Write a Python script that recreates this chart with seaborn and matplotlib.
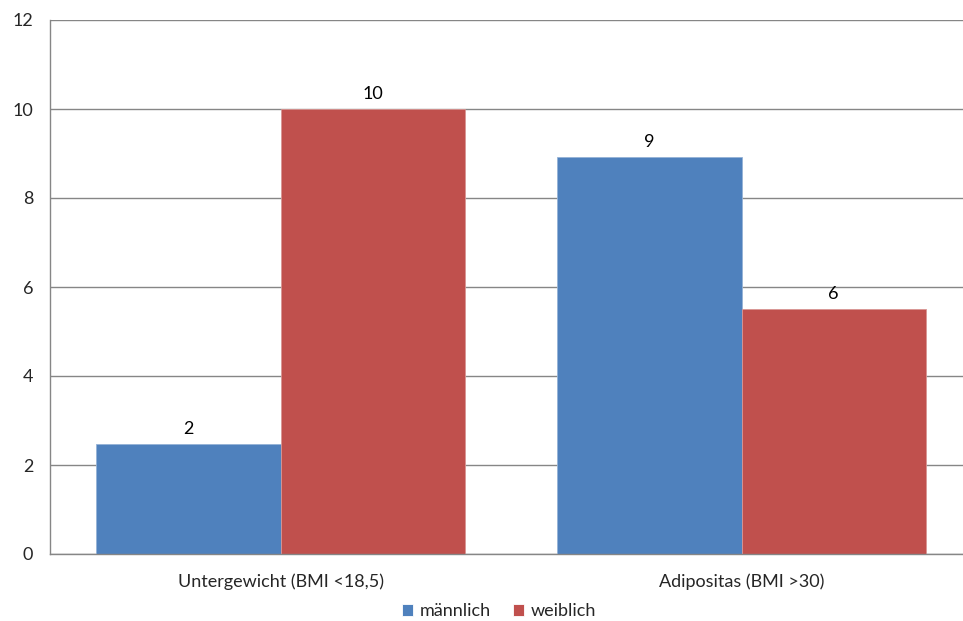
import matplotlib.pyplot as plt
import matplotlib as mpl
import numpy as np
import pandas as pd
import seaborn as sns

categories = ["Untergewicht (BMI <18,5)", "Adipositas (BMI >30)"]
groups = ["männlich", "weiblich"]
maennlich = [2.48, 8.93]
weiblich = [10.0, 5.5]
bar_labels = [["2", "9"], ["10", "6"]]
yticks = [0, 2, 4, 6, 8, 10, 12]

colors = ["#4F81BD", "#C0504D"]

df = pd.DataFrame({
    "kategorie": categories * 2,
    "geschlecht": [groups[0]] * 2 + [groups[1]] * 2,
    "wert": maennlich + weiblich,
})

sns.set_style("white")
plt.rcParams["font.family"] = ["Lato", "DejaVu Sans"]
fs = 13

fig = plt.figure(figsize=(9.63, 6.21), dpi=100)
ax = fig.add_axes([50 / 963, 67 / 621, 922 / 963, 534 / 621])

sns.barplot(data=df, x="kategorie", y="wert", hue="geschlecht", order=categories,
            hue_order=groups, palette=colors, width=0.8, saturation=1,
            linewidth=0.6, ax=ax, legend=True)

# lighter edge per series
for i, ec in enumerate(["#95b3d7", "#d99694"]):
    cont = ax.containers[i]
    for b in cont:
        b.set_edgecolor(ec)
    ax.bar_label(cont, labels=bar_labels[i], padding=5, fontsize=fs, color="#000000")

ax.set_xlim(-0.5, 1.5)
ax.set_ylim(0, 12)
ax.set_yticks(yticks)
ax.yaxis.grid(True, color="#868686", linewidth=1)
ax.set_axisbelow(True)
ax.set_xlabel("")
ax.set_ylabel("")

for s in ["top", "right"]:
    ax.spines[s].set_visible(False)
for s in ["left", "bottom"]:
    ax.spines[s].set_color("#868686")
    ax.spines[s].set_linewidth(1)

ax.tick_params(axis="y", length=5, width=1, color="#868686", labelsize=fs, pad=7)
ax.set_xticks([0, 1])
ax.set_xticklabels(categories)
ax.tick_params(axis="x", length=0, labelsize=fs, pad=14)
# ticks at category boundaries
ax.set_xticks([-0.5, 0.5, 1.5], minor=True)
ax.tick_params(axis="x", which="minor", length=5, width=1, color="#868686")

ax.legend(loc="center", bbox_to_anchor=(0.487, -0.107), ncol=2, frameon=False,
          fontsize=fs, handlelength=0.6, handleheight=0.6, handletextpad=0.4,
          columnspacing=1.2)

fig.savefig("out.png", dpi=100)
